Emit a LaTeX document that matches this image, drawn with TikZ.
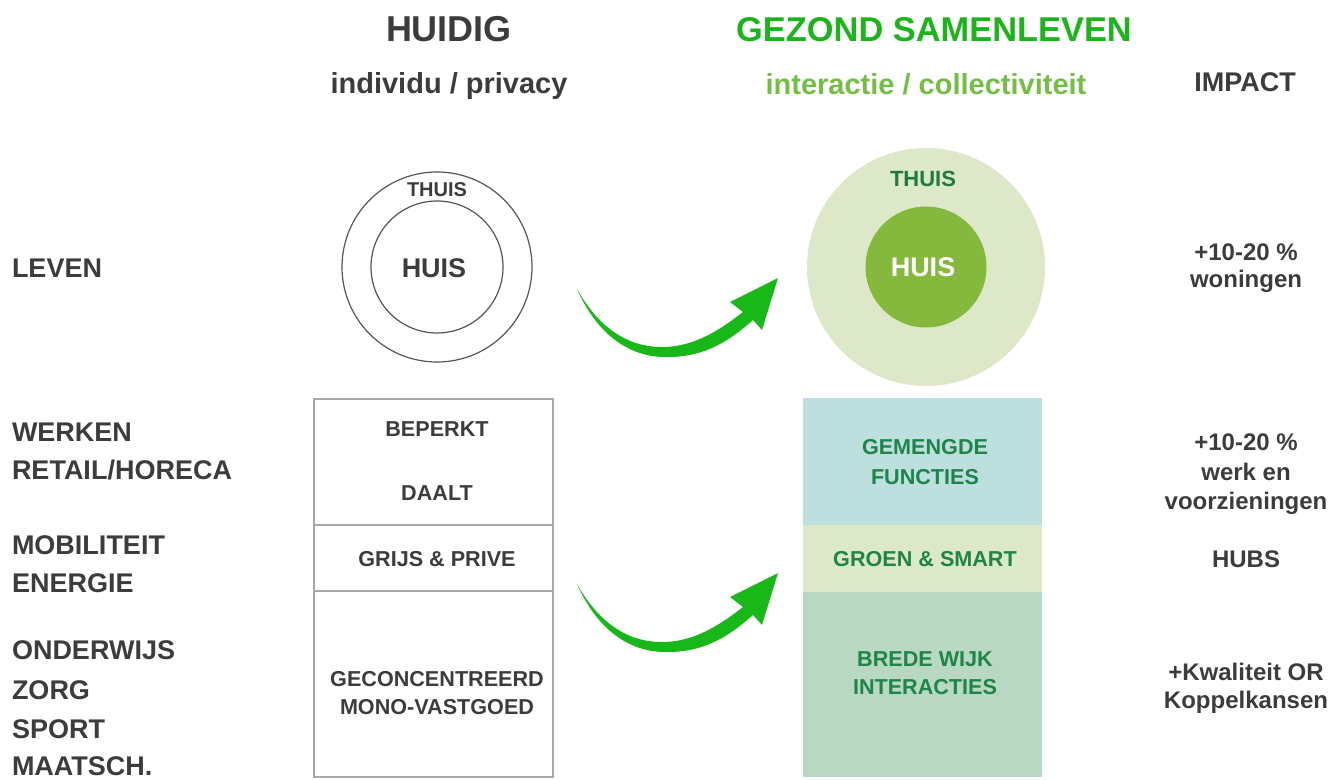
\documentclass[tikz,border=0pt]{standalone}
\usepackage{fontspec}
\setmainfont{Liberation Sans}
\definecolor{txt}{HTML}{3C3C3C}
\definecolor{boxline}{HTML}{A8A8A8}
\definecolor{circline}{HTML}{555555}
\definecolor{arrowgreen}{HTML}{17B817}
\definecolor{titlegreen}{HTML}{1BB51B}
\definecolor{subgreen}{HTML}{72BF44}
\definecolor{paleout}{HTML}{DDE8C9}
\definecolor{innergreen}{HTML}{84B93E}
\definecolor{darkgreen}{HTML}{1E7B3B}
\definecolor{boxgreen}{HTML}{1E8548}
\definecolor{boxblue}{HTML}{BDE0DF}
\definecolor{boxmint}{HTML}{B9D8C1}
\newcommand{\fsz}[1]{\fontsize{#1pt}{#1pt}\selectfont\bfseries}
\tikzset{
  x=0.5pt, y=-0.5pt,
  txtbase/.style={inner sep=0pt, outer sep=0pt, anchor=base},
  titletxt/.style={txtbase, font=\fsz{18}},
  subtxt/.style={txtbase, font=\fsz{14.5}},
  rowlbl/.style={txtbase, anchor=base west, font=\fsz{13.5}, text=txt},
  impacttxt/.style={txtbase, font=\fsz{12}, text=txt},
  boxtxt/.style={txtbase, font=\fsz{10.8}},
  ringline/.style={draw=circline, line width=0.6pt},
  tablebox/.style={draw=boxline, line width=0.7pt},
}
\begin{document}
\begin{tikzpicture}
\useasboundingbox (0,0) rectangle (1343,780);

% titles
\node[titletxt, text=txt] (tHuidig) at (449,42) {HUIDIG};
\node[subtxt, text=txt] (sHuidig) at (449,94) {individu / privacy};
\node[titletxt, font=\fsz{17.2}, text=titlegreen] (tGezond) at (934,42) {GEZOND SAMENLEVEN};
\node[subtxt, text=subgreen] (sGezond) at (926,95) {interactie / collectiviteit};
\node[txtbase, font=\fsz{13.5}, text=txt] (tImpact) at (1245,92) {IMPACT};

% row labels
\node[rowlbl] (lLeven) at (12,278) {LEVEN};
\node[rowlbl] (lWerken) at (12,441) {WERKEN};
\node[rowlbl] (lRetail) at (12,479) {RETAIL/HORECA};
\node[rowlbl] (lMob) at (12,554) {MOBILITEIT};
\node[rowlbl] (lEnergie) at (12,592) {ENERGIE};
\node[rowlbl] (lOnder) at (12,659) {ONDERWIJS};
\node[rowlbl] (lZorg) at (12,699) {ZORG};
\node[rowlbl] (lSport) at (12,738) {SPORT};
\node[rowlbl] (lMaat) at (12,775) {MAATSCH.};

% left circles
\node[circle, ringline, minimum size=95pt, inner sep=0pt] (outerL) at (437,267) {};
\node[circle, ringline, minimum size=66pt, inner sep=0pt] (innerL) at (437,267) {};
\node[txtbase, font=\fsz{10}, text=txt] (thuisL) at (437,197) {THUIS};
\node[txtbase, font=\fsz{13.5}, text=txt] (huisL) at (434,278) {HUIS};

% right circles
\node[circle, fill=paleout, minimum size=119pt, inner sep=0pt] (outerR) at (926,267) {};
\node[circle, fill=innergreen, minimum size=60.5pt, inner sep=0pt] (innerR) at (926,267) {};
\node[txtbase, font=\fsz{11}, text=darkgreen] (thuisR) at (923,187) {THUIS};
\node[txtbase, font=\fsz{13.5}, text=white] (huisR) at (923,277) {HUIS};

% left table
\draw[tablebox] (314,399) rectangle (553,777);
\draw[tablebox] (314,525) -- (553,525);
\draw[tablebox] (314,591) -- (553,591);
\node[boxtxt, text=txt] (bBeperkt) at (437,437) {BEPERKT};
\node[boxtxt, text=txt] (bDaalt) at (437,500) {DAALT};
\node[boxtxt, text=txt] (bGrijs) at (437,566) {GRIJS \& PRIVE};
\node[boxtxt, text=txt] (bGecon) at (437,686) {GECONCENTREERD};
\node[boxtxt, text=txt] (bMono) at (437,714) {MONO-VASTGOED};

% right table
\fill[boxblue] (803,398) rectangle (1042,525);
\fill[paleout] (803,525) rectangle (1042,592);
\fill[boxmint] (803,592) rectangle (1042,777);
\node[boxtxt, text=boxgreen] (bGem) at (925,454) {GEMENGDE};
\node[boxtxt, text=boxgreen] (bFunc) at (925,484) {FUNCTIES};
\node[boxtxt, text=boxgreen] (bGroen) at (925,566) {GROEN \& SMART};
\node[boxtxt, text=boxgreen] (bBrede) at (925,666) {BREDE WIJK};
\node[boxtxt, text=boxgreen] (bInter) at (925,694) {INTERACTIES};

% impact column
\node[impacttxt] (i1a) at (1246,261) {+10-20 \%};
\node[impacttxt] (i1b) at (1246,288) {woningen};
\node[impacttxt] (i2a) at (1246,451) {+10-20 \%};
\node[impacttxt] (i2b) at (1246,480) {werk en};
\node[impacttxt] (i2c) at (1246,509) {voorzieningen};
\node[impacttxt] (i3) at (1246,567) {HUBS};
\node[impacttxt] (i4a) at (1246,680) {+Kwaliteit OR};
\node[impacttxt] (i4b) at (1246,708) {Koppelkansen};

% curved arrows
\foreach \dy in {0,295} {
\begin{scope}[shift={(0,\dy)}]
\fill[arrowgreen] (577,289) .. controls (600,330) and (630,348) .. (665,347)
  .. controls (695,346) and (720,330) .. (743,312) -- (730,302) -- (778,278)
  -- (762,330) -- (753,320) .. controls (725,345) and (700,358) .. (663,357)
  .. controls (625,356) and (595,330) .. (577,289) -- cycle;
\end{scope}
}
\end{tikzpicture}
\end{document}
